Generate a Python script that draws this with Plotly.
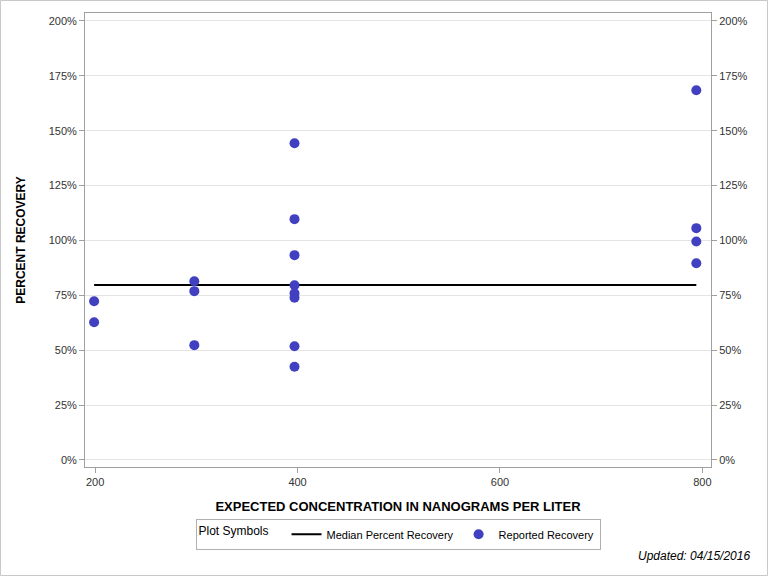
import plotly.graph_objects as go

conc_x = [199, 199, 298, 298, 298, 397, 397, 397, 397, 397, 397, 397, 397, 794, 794, 794, 794]
recovery = [72.3, 62.7, 81.4, 76.9, 52.3, 144.3, 109.7, 93.3, 79.6, 75.9, 73.9, 51.8, 42.5, 168.4, 105.6, 99.5, 89.6]
median_x = [199, 794]
median_y = [79.7, 79.7]
yticks = [0, 25, 50, 75, 100, 125, 150, 175, 200]
ytick_text = ["0%", "25%", "50%", "75%", "100%", "125%", "150%", "175%", "200%"]
xticks = [200, 400, 600, 800]

W, H = 768, 576
L, R, T, B = 85, 57, 13, 109
pw, ph = W - L - R, H - T - B

fig = go.Figure()
fig.add_trace(go.Scatter(x=median_x, y=median_y, mode="lines", name="Median Percent Recovery",
                         line=dict(color="black", width=2)))
fig.add_trace(go.Scatter(x=conc_x, y=recovery, mode="markers", name="Reported Recovery",
                         marker=dict(color="#4040C0", size=10)))
fig.add_trace(go.Scatter(x=median_x, y=median_y, mode="lines", yaxis="y2", showlegend=False,
                         hoverinfo="skip", line=dict(color="rgba(0,0,0,0)", width=0)))

font = "Liberation Sans, Arial, sans-serif"
tickfont = dict(family=font, size=11, color="#333333")

fig.update_layout(
    width=W, height=H,
    margin=dict(l=L, r=R, t=T, b=B),
    paper_bgcolor="white", plot_bgcolor="white",
    xaxis=dict(range=[190, 808.5], tickvals=xticks, showgrid=False, zeroline=False,
               showline=True, linecolor="#A0A0A0", mirror=True, ticks="outside", ticklen=5,
               tickcolor="#A0A0A0", tickfont=tickfont,
               title=dict(text="<b>EXPECTED CONCENTRATION IN NANOGRAMS PER LITER</b>",
                          font=dict(family=font, size=13, color="black"), standoff=14)),
    yaxis=dict(range=[-3.2, 203.6], tickvals=yticks, ticktext=ytick_text, showgrid=True,
               gridcolor="#E4E4E4", zeroline=False, showline=True, linecolor="#A0A0A0",
               mirror=True, ticks="outside", ticklen=5, tickcolor="#A0A0A0", tickfont=tickfont,
               title=dict(text="<b>PERCENT RECOVERY</b>",
                          font=dict(family=font, size=12, color="black"), standoff=20)),
    yaxis2=dict(range=[-3.2, 203.6], tickvals=yticks, ticktext=ytick_text, overlaying="y", side="right",
                showgrid=False, zeroline=False, ticks="outside", ticklen=5, tickcolor="#A0A0A0",
                tickfont=tickfont),
    legend=dict(orientation="h", x=0.5, xanchor="center", y=-0.114, yanchor="top",
                bordercolor="#B0B0B0", borderwidth=1, bgcolor="white",
                font=dict(family=font, size=11, color="black"), tracegroupgap=0,
                title=dict(text="Plot Symbols   ", font=dict(family=font, size=12))),
    annotations=[dict(text="<i>Updated: 04/15/2016</i>", xref="paper", yref="paper",
                      x=(W - 16 - L) / pw, y=(H - B - 556) / ph, xanchor="right", yanchor="middle",
                      showarrow=False, font=dict(family=font, size=12, color="black"))],
    shapes=[dict(type="rect", xref="paper", yref="paper",
                 x0=(0.5 - L) / pw, x1=(W - 0.5 - L) / pw,
                 y0=(H - B - (H - 0.5)) / ph, y1=(H - B - 0.5) / ph,
                 line=dict(color="#C8C8C8", width=1))],
    showlegend=True,
)

fig.write_html("out.html")
